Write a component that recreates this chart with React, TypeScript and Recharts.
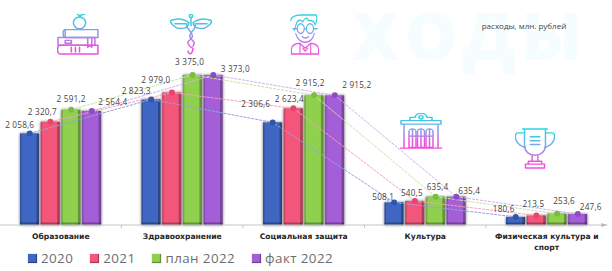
import { Bar, ComposedChart, Legend, Line, XAxis, YAxis } from "recharts";

const categories = ["Образование", "Здравоохранение", "Социальная защита", "Культура", "Физическая культура и спорт"];
const values2020 = [2058.6, 2823.3, 2306.6, 508.1, 180.6];
const values2021 = [2320.7, 2979.0, 2623.4, 540.5, 213.5];
const valuesPlan = [2591.2, 3375.0, 2915.2, 635.4, 253.6];
const valuesFact = [2564.4, 3373.0, 2915.2, 635.4, 247.6];

const data = categories.map((name, i) => ({
  name,
  y2020: values2020[i],
  y2021: values2021[i],
  plan: valuesPlan[i],
  fact: valuesFact[i],
}));

const WIDTH = 612;
const HEIGHT = 271;
const BAND = 121.5;
const BAR_STEP = 20.7;
const FONT = "'Open Sans', sans-serif";
const TICK_CHARS = 22;

// label nudges from the point at the top of each bar, [dx, dy] per category
const series = [
  {
    key: "y2020", name: "2020", axis: "s0", shift: -1.5, color: "#3f66c2", line: "#8fa5dc", dot: "#2f55ae",
    nudge: [[-10, -9], [-15, -9], [-17, -19], [-11, -6], [-12, -8]],
  },
  {
    key: "y2021", name: "2021", axis: "s1", shift: -0.5, color: "#f4567b", line: "#f5a3b5", dot: "#e8446c",
    nudge: [[-8, -10], [-16, -13], [-4, -10], [-3, -8], [-3, -12]],
  },
  {
    key: "plan", name: "план 2022", axis: "s2", shift: 0.5, color: "#8fd04f", line: "#c6e3a6", dot: "#7cbd3e",
    nudge: [[0, -11], [-3, -13], [-4, -13], [2, -10], [7, -13]],
  },
  {
    key: "fact", name: "факт 2022", axis: "s3", shift: 1.5, color: "#a45fd8", line: "#cfb3e8", dot: "#8f4bc6",
    nudge: [[21, -9], [22, -7], [22, -11], [13, -6], [13, -7]],
  },
];
const legendNames = series.map((s) => s.name);

function formatValue(v: number): string {
  const [whole, frac] = v.toFixed(1).split(".");
  return `${whole.replace(/\B(?=(\d{3})+$)/g, " ")},${frac}`;
}

function wrapWords(text: string, limit: number): string[] {
  const lines: string[] = [];
  for (const word of text.split(" ")) {
    const last = lines[lines.length - 1];
    if (last && (last + " " + word).length <= limit) lines[lines.length - 1] = last + " " + word;
    else lines.push(word);
  }
  return lines;
}

function BevelBar({ x, y, width, height, fill }: any) {
  return (
    <g style={{ filter: "drop-shadow(0 0 1.4px rgba(0,0,0,0.6))" }}>
      <rect x={x} y={y} width={width} height={height} fill={fill} />
      <rect x={x} y={y} width={1.5} height={height} fill="#000" opacity={0.18} />
      <rect x={x + width - 2.5} y={y} width={2.5} height={height} fill="#000" opacity={0.28} />
      <rect x={x} y={y + height - 2.5} width={width} height={2.5} fill="#000" opacity={0.3} />
    </g>
  );
}

function CategoryTick({ x, y, payload, index }: any) {
  const left = x - BAND / 2;
  return (
    <g>
      {index > 0 && <line x1={left} x2={left} y1={225} y2={228} stroke="#c4c4c4" />}
      {index === categories.length - 1 && (
        <path d={`M${left + BAND - 6} 223 L${left + BAND - 1} 225 L${left + BAND - 6} 227 Z`} fill="#b5b5b5" />
      )}
      <text
        textAnchor="middle"
        dominantBaseline="central"
        fontFamily="'DejaVu Sans', sans-serif"
        fontWeight={700}
        fontSize={7.6}
        fill="#262626"
      >
        {wrapWords(payload.value, TICK_CHARS).map((line, i) => (
          <tspan key={line} x={x} y={y + 5 + i * 11}>
            {line}
          </tspan>
        ))}
      </text>
    </g>
  );
}

function LegendRow({ payload }: any) {
  const items = (payload ?? []).filter((p: any) => legendNames.includes(p.value));
  return (
    <div style={{ display: "flex", gap: 17, fontFamily: FONT, fontSize: 13.4, letterSpacing: 0.4, color: "#6e6e6e" }}>
      {items.map((p: any) => (
        <div key={p.value} style={{ display: "flex", alignItems: "center", gap: 4 }}>
          <span style={{ width: 9, height: 9, background: p.color, boxShadow: "inset -1px -1px 1px rgba(0,0,0,.35), 0 0 1px rgba(0,0,0,.4)" }} />
          <span>{p.value}</span>
        </div>
      ))}
    </div>
  );
}

function makeLabel(nudge: number[][]) {
  return ({ x, y, index, value }: any) => (
    <text
      x={x + nudge[index][0]}
      y={y + nudge[index][1]}
      textAnchor="middle"
      dominantBaseline="central"
      fontFamily={FONT}
      fontSize={8.2}
      letterSpacing={0.2}
      fill="#444"
    >
      {formatValue(value)}
    </text>
  );
}

function Icon({ x, y, w, h, children }: any) {
  return (
    <svg
      style={{ position: "absolute", left: x, top: y }}
      width={w}
      height={h}
      viewBox="0 0 42 42"
      preserveAspectRatio="none"
      fill="none"
      stroke="url(#iconGrad)"
      strokeWidth={1.5}
      strokeLinejoin="round"
      strokeLinecap="round"
    >
      <defs>
        <linearGradient id="iconGrad" x1="0" y1="0" x2="0" y2="42" gradientUnits="userSpaceOnUse">
          <stop offset="0.12" stopColor="#2fd2e2" />
          <stop offset="0.5" stopColor="#8f9be8" />
          <stop offset="0.82" stopColor="#f04fdc" />
        </linearGradient>
      </defs>
      {children}
    </svg>
  );
}

export default function App() {
  return (
    <div style={{ position: "absolute", left: 0, top: 0, width: WIDTH, height: HEIGHT, overflow: "hidden", background: "#fff" }}>
      <svg style={{ position: "absolute", left: 0, top: 0 }} width={WIDTH} height={HEIGHT}>
        <text x={467} y={60} textAnchor="middle" fontFamily={FONT} fontWeight={800} fontSize={66} textLength={230} fill="#f6fdfe">ХОДЫ</text>
        <text x={524} y={25} dominantBaseline="central" textAnchor="middle" fontFamily={FONT} fontSize={8} fill="#444">расходы, млн. рублей</text>
      </svg>

      <div style={{ position: "absolute", left: 0, top: 0 }}>
        <ComposedChart
          width={WIDTH}
          height={HEIGHT}
          data={data}
          margin={{ top: 0, right: 4.5, bottom: 0, left: 0 }}
          barGap={1.7}
          barSize={19}
        >
          <XAxis
            dataKey="name"
            height={46}
            interval={0}
            axisLine={{ stroke: "#c4c4c4" }}
            tickLine={false}
            tickMargin={0}
            tick={<CategoryTick />}
          />
          {series.map((s) => (
            <XAxis
              key={s.axis}
              xAxisId={s.axis}
              dataKey="name"
              scale="band"
              hide
              height={0}
              padding={{ left: s.shift * BAR_STEP, right: -s.shift * BAR_STEP }}
            />
          ))}
          <YAxis hide domain={[0, 5060]} />
          <Legend
            layout="horizontal"
            verticalAlign="middle"
            align="center"
            wrapperStyle={{ left: 28, top: 249, width: "auto" }}
            content={<LegendRow />}
          />
          {series.map((s) => (
            <Bar key={s.key} dataKey={s.key} name={s.name} fill={s.color} shape={<BevelBar />} isAnimationActive={false} />
          ))}
          {series.map((s) => (
            <Line
              key={`line-${s.key}`}
              dataKey={s.key}
              xAxisId={s.axis}
              legendType="none"
              stroke={s.line}
              strokeWidth={1}
              strokeDasharray="3 1"
              dot={{ r: 3, fill: s.dot, stroke: "none" }}
              activeDot={false}
              label={makeLabel(s.nudge)}
              isAnimationActive={false}
            />
          ))}
        </ComposedChart>
      </div>

      {/* книги и яблоко */}
      <Icon x={57} y={14} w={43} h={41}>
        <circle cx="22" cy="9" r="6" />
        <path d="M22 3 C23 1 25 0 27 0 M23 3 L20 0" />
        <path d="M8 16 H40 V24 H8 Z M8 16 a2 4 0 0 0 0 8" />
        <path d="M1 24 H37 V32 H1 Z M8 27 h6 v3 h-6 Z M30 24 v10 l2 -2 l2 2 v-10" />
        <path d="M3 32 H40 V41 H3 a2.5 4.5 0 0 1 0 -9 M14 34 v5 M18 34 v5 M22 34 v5" />
      </Icon>
      {/* кадуцей */}
      <Icon x={170} y={14} w={42} h={41}>
        <circle cx="21" cy="2" r="1.6" />
        <path d="M21 4 V12 M0 7 C7 4 14 5 19 9 C18 16 8 16 5 13 C3 12 1 10 0 7 Z M42 7 C35 4 28 5 23 9 C24 16 34 16 37 13 C39 12 41 10 42 7 Z" />
        <path d="M5 10 H16 M37 10 H26" />
        <path d="M17 10 C14 15 25 19 22 24 C19 29 16 27 19 32 C21 36 25 33 22 39 C21 42 18 41 18 38" />
        <path d="M25 10 C28 15 18 19 20 24 C23 29 26 28 23 33" />
      </Icon>
      {/* человек в очках */}
      <Icon x={290} y={14} w={30} h={41}>
        <path d="M1 7 C1 2 8 1 16 1 H37 C38 5 37 9 35 11 C34 7 30 6 26 7 C24 3 20 4 18 8 C14 5 10 6 8 12 L6 17" />
        <circle cx="15" cy="15" r="5" />
        <circle cx="28" cy="15" r="5" />
        <path d="M20 15 H23 M10 15 H4 M33 15 H38" />
        <path d="M8 20 C10 26 16 29 21 29 C27 29 32 26 34 20 M17 23 C19 25 24 25 26 23" />
        <path d="M2 41 V36 C2 32 8 30 14 30 L21 35 L29 30 C34 30 40 32 40 36 V41 Z M14 30 V41 M29 30 V41 M18 35 L21 38 L25 35" />
      </Icon>
      {/* здание */}
      <Icon x={400} y={113} w={42} h={36}>
        <path d="M10 9 V5 H15 C16 -1 26 -1 27 5 H32 V9" />
        <circle cx="21" cy="5" r="2" />
        <path d="M1 9 H41 V13 H1 Z M4 13 V40 M38 13 V40 M0 41 H42" />
        <path d="M9 40 V22 a3.5 3.5 0 0 1 7 0 V40 Z M9 27 H16 M12.5 19 V40" />
        <path d="M17.5 40 V22 a3.5 3.5 0 0 1 7 0 V40 Z M17.5 27 H24.5 M21 19 V40" />
        <path d="M26 40 V22 a3.5 3.5 0 0 1 7 0 V40 Z M26 27 H33 M29.5 19 V40" />
      </Icon>
      {/* кубок */}
      <Icon x={515} y={128} w={40} h={41}>
        <path d="M10 1 H32 V18 C32 24 27 28 21 28 C15 28 10 24 10 18 Z M8 1 H34" />
        <path d="M10 5 H3 C0 5 0 9 1 12 C3 17 7 19 11 20 M32 5 H39 C42 5 42 9 41 12 C39 17 35 19 31 20" />
        <path d="M16 9 H26 M16 13 H26 M16 17 H26" />
        <path d="M18 28 V34 M24 28 V34 M14 34 H28 V37 H14 Z M11 37 H31 V41 H11 Z" />
      </Icon>
    </div>
  );
}
